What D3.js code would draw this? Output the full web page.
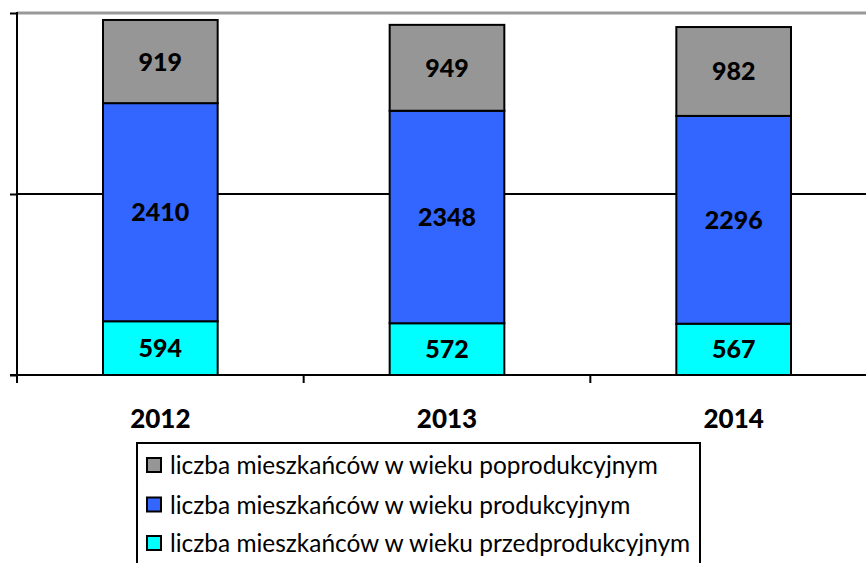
<!DOCTYPE html>
<html><head><meta charset="utf-8">
<script src="https://cdn.jsdelivr.net/npm/d3@7"></script>
<style>body{margin:0;background:#fff}svg{display:block}</style>
</head><body>
<svg id="c" width="866" height="563"></svg>
<script>
const years = ["2012", "2013", "2014"];
const przed = [594, 572, 567];
const prod = [2410, 2348, 2296];
const popr = [919, 949, 982];
const seriesNames = ["liczba mieszkańców w wieku poprodukcyjnym", "liczba mieszkańców w wieku produkcyjnym", "liczba mieszkańców w wieku przedprodukcyjnym"];
const yTicks = [0, 2000, 4000];

const colors = {przed: "#00FFFF", prod: "#3366FF", popr: "#969696"};
const svg = d3.select("#c");
const font = "Lato, 'Open Sans', sans-serif";

const y = d3.scaleLinear().domain([0, 4000]).range([375, 13]);
const x = d3.scaleBand().domain(years).range([17, 877]).paddingInner(0.6).paddingOuter(0.3);

const rows = years.map((yr, i) => ({year: yr, przed: przed[i], prod: prod[i], popr: popr[i]}));
const stack = d3.stack().keys(["przed", "prod", "popr"])(rows);

// gridlines
svg.append("line").attr("x1", 17).attr("x2", 866).attr("y1", y(4000)).attr("y2", y(4000))
  .attr("stroke", "#999").attr("stroke-width", 3);
svg.append("line").attr("x1", 17).attr("x2", 866).attr("y1", y(2000)).attr("y2", y(2000))
  .attr("stroke", "#000").attr("stroke-width", 2);

// bars
stack.forEach(layer => {
  const g = svg.append("g");
  g.selectAll("rect").data(layer).join("rect")
    .attr("x", d => x(d.data.year))
    .attr("width", x.bandwidth())
    .attr("y", d => y(d[1]))
    .attr("height", d => y(d[0]) - y(d[1]))
    .attr("fill", colors[layer.key])
    .attr("stroke", "#000").attr("stroke-width", 2);
  g.selectAll("text").data(layer).join("text")
    .attr("x", d => x(d.data.year) + x.bandwidth() / 2)
    .attr("y", d => (y(d[0]) + y(d[1])) / 2)
    .attr("dy", "0.36em")
    .attr("text-anchor", "middle")
    .attr("font-family", font).attr("font-weight", 900).attr("font-size", 25)
    .attr("fill", "#000")
    .text(d => d.data[layer.key]);
});

// y axis
const yAxis = d3.axisLeft(y).tickValues(yTicks).tickSize(7).tickFormat("");
const ya = svg.append("g").attr("transform", "translate(17,0)").call(yAxis);
ya.select(".domain").remove();
ya.selectAll(".tick line").attr("stroke", "#000").attr("stroke-width", 2);
svg.append("line").attr("x1", 17).attr("x2", 17).attr("y1", 12).attr("y2", 383)
  .attr("stroke", "#000").attr("stroke-width", 2);

// x axis baseline + ticks at band boundaries
svg.append("line").attr("x1", 10).attr("x2", 866).attr("y1", y(0)).attr("y2", y(0))
  .attr("stroke", "#000").attr("stroke-width", 2);
const bounds = d3.range(years.length + 1).map(i => x.range()[0] + i * x.step());
svg.selectAll(".xt").data(bounds).join("line").attr("class", "xt")
  .attr("x1", d => d).attr("x2", d => d).attr("y1", y(0)).attr("y2", y(0) + 8)
  .attr("stroke", "#000").attr("stroke-width", 2);
svg.selectAll(".xl").data(years).join("text").attr("class", "xl")
  .attr("x", d => x(d) + x.bandwidth() / 2).attr("y", 428)
  .attr("text-anchor", "middle")
  .attr("font-family", font).attr("font-weight", 900).attr("font-size", 26)
  .text(d => d);

// legend
const lg = svg.append("g");
lg.append("rect").attr("x", 137).attr("y", 443).attr("width", 563).attr("height", 140)
  .attr("fill", "#fff").attr("stroke", "#000").attr("stroke-width", 2);
const legendColors = [colors.popr, colors.prod, colors.przed];
const rowY = [465.5, 505, 543.5];
seriesNames.forEach((name, i) => {
  lg.append("rect").attr("x", 147).attr("y", rowY[i] - 7.5).attr("width", 14).attr("height", 14)
    .attr("fill", legendColors[i]).attr("stroke", "#000").attr("stroke-width", 2);
  const t = lg.append("text").attr("x", 170).attr("y", rowY[i]).attr("dy", "0.35em")
    .attr("font-family", font).attr("font-size", 20).attr("fill", "#000").text(name);
  if (i === 0) {
    const w = t.node().getComputedTextLength();
    const fs = 20 * 488 / w;
    lg.attr("data-fs", fs);
  }
});
const fs = +lg.attr("data-fs");
lg.selectAll("text").attr("font-size", fs);
</script>
</body></html>
